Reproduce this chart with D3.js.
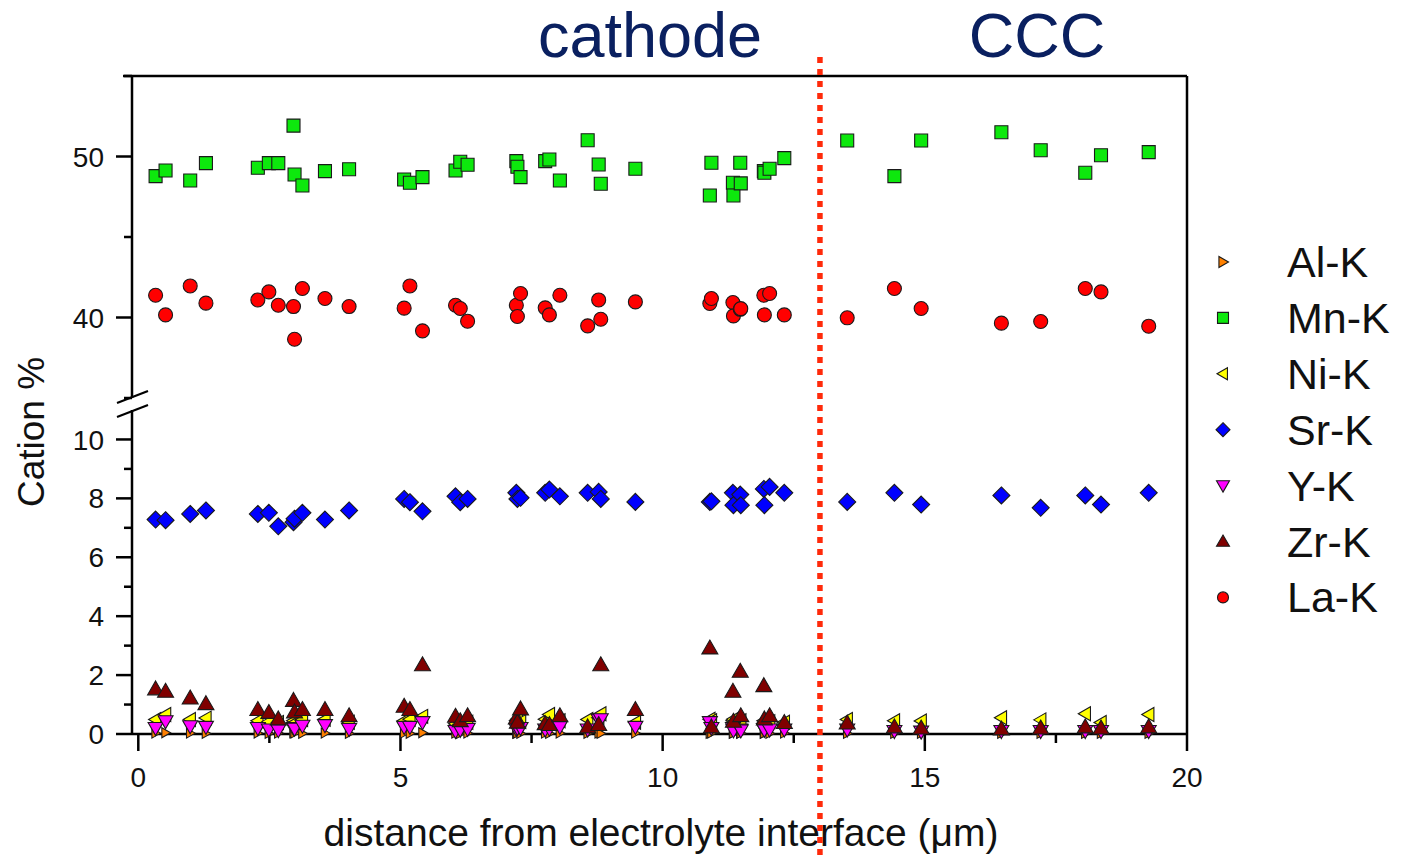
<!DOCTYPE html>
<html>
<head>
<meta charset="utf-8">
<script src="https://cdn.jsdelivr.net/npm/d3@7"></script>
<style>
  html, body { margin: 0; padding: 0; background: #fff; }
  svg { display: block; font-family: "Liberation Sans", Arial, sans-serif; }
</style>
</head>
<body>
<svg id="chart" width="1401" height="856"></svg>
<script>
// Measurement positions (distance from electrolyte interface, µm)
const positions = [
  0.33, 0.52, 0.99, 1.29, 2.28, 2.49, 2.67, 2.96, 2.98, 3.13,
  3.56, 4.02, 5.07, 5.18, 5.42, 6.05, 6.14, 6.28, 7.21, 7.23,
  7.29, 7.76, 7.84, 8.04, 8.57, 8.78, 8.82, 9.48, 10.90, 10.93,
  11.34, 11.35, 11.48, 11.49, 11.93, 11.94, 12.04, 12.32,
  13.52, 14.42, 14.93, 16.46, 17.21, 18.06, 18.36, 19.27
];

// Cation fractions (%) per element, one value per position
const alK = [
  0.03, 0.04, 0.03, 0.02, 0.03, 0.02, 0.03, 0.04, 0.03, 0.02,
  0.03, 0.02, 0.03, 0.02, 0.04, 0.03, 0.02, 0.03, 0.02, 0.03,
  0.02, 0.03, 0.02, 0.03, 0.02, 0.03, 0.02, 0.03, 0.02, 0.03,
  0.02, 0.03, 0.02, 0.03, 0.02, 0.03, 0.02, 0.03,
  0.02, 0.02, 0.02, 0.02, 0.02, 0.02, 0.02, 0.02
];
const mnK = [
  48.78, 49.13, 48.51, 49.59, 49.30, 49.59, 49.59, 51.92, 48.88, 48.20,
  49.09, 49.21, 48.57, 48.37, 48.72, 49.13, 49.67, 49.49, 49.71, 49.36,
  48.72, 49.71, 49.81, 48.51, 51.01, 49.50, 48.31, 49.24, 47.58, 49.61,
  48.37, 47.58, 49.61, 48.33, 49.09, 48.99, 49.24, 49.90,
  50.99, 48.78, 50.99, 51.51, 50.39, 48.99, 50.08, 50.27
];
const niK = [
  0.49, 0.66, 0.49, 0.54, 0.45, 0.42, 0.39, 0.45, 0.38, 0.49,
  0.50, 0.40, 0.45, 0.50, 0.60, 0.35, 0.40, 0.40, 0.45, 0.50,
  0.42, 0.50, 0.66, 0.45, 0.49, 0.55, 0.69, 0.40, 0.50, 0.45,
  0.45, 0.50, 0.40, 0.45, 0.45, 0.40, 0.42, 0.40,
  0.49, 0.45, 0.44, 0.55, 0.48, 0.69, 0.39, 0.66
];
const srK = [
  7.28, 7.26, 7.47, 7.59, 7.47, 7.51, 7.05, 7.19, 7.31, 7.51,
  7.28, 7.59, 7.98, 7.87, 7.56, 8.07, 7.87, 7.98, 8.19, 7.98,
  8.02, 8.19, 8.30, 8.07, 8.19, 8.22, 7.98, 7.88, 7.88, 7.90,
  8.19, 7.77, 8.13, 7.77, 8.32, 7.77, 8.39, 8.19,
  7.88, 8.19, 7.79, 8.10, 7.68, 8.10, 7.79, 8.19
];
const yK = [
  0.20, 0.43, 0.26, 0.24, 0.20, 0.15, 0.13, 0.20, 0.18, 0.28,
  0.30, 0.17, 0.24, 0.24, 0.40, 0.10, 0.14, 0.17, 0.17, 0.20,
  0.20, 0.15, 0.18, 0.24, 0.15, 0.48, 0.50, 0.24, 0.40, 0.20,
  0.20, 0.12, 0.15, 0.12, 0.17, 0.14, 0.15, 0.15,
  0.15, 0.10, 0.08, 0.10, 0.10, 0.10, 0.10, 0.10
];
const zrK = [
  1.53, 1.45, 1.22, 1.03, 0.83, 0.73, 0.51, 1.14, 0.75, 0.83,
  0.83, 0.62, 0.94, 0.83, 2.35, 0.60, 0.45, 0.62, 0.54, 0.40,
  0.85, 0.35, 0.32, 0.62, 0.24, 0.32, 2.35, 0.83, 2.92, 0.24,
  1.45, 0.43, 2.13, 0.62, 1.64, 0.51, 0.62, 0.39,
  0.37, 0.24, 0.20, 0.17, 0.20, 0.24, 0.20, 0.24
];
const laK = [
  41.38, 40.16, 41.96, 40.89, 41.09, 41.59, 40.76, 40.68, 38.65, 41.80,
  41.18, 40.68, 40.58, 41.96, 39.17, 40.76, 40.56, 39.77, 40.76, 40.06,
  41.49, 40.60, 40.16, 41.38, 39.48, 41.09, 39.89, 40.97, 40.87, 41.18,
  40.93, 40.10, 40.51, 40.55, 41.38, 40.16, 41.49, 40.16,
  39.98, 41.80, 40.56, 39.65, 39.75, 41.80, 41.59, 39.46
];

// Axis ticks
const xMajorTicks = [0, 5, 10, 15, 20];
const xMinorTicks = [2.5, 7.5, 12.5, 17.5];
const upperMajorTicks = [40, 50];
const upperMinorTicks = [35, 45, 55];
const lowerMajorTicks = [0, 2, 4, 6, 8, 10];
const lowerMinorTicks = [1, 3, 5, 7, 9];

// Boundary between cathode and current-collector coating
const boundaryX = 13.0;

// ---- layout ----
const plotLeft = 132, plotRight = 1187, plotTop = 76, plotBottom = 734;
const upperBottom = 398, lowerTop = 410;

const x = d3.scaleLinear().domain([-0.12, 20]).range([plotLeft, plotRight]);
const yUpper = d3.scaleLinear().domain([35, 55]).range([upperBottom, plotTop]);
const yLower = d3.scaleLinear().domain([0, 11]).range([plotBottom, lowerTop]);

// Custom marker shapes; "size" is the half-width in px
const shapes = {
  square: { draw(ctx, r) { ctx.rect(-r, -r, 2 * r, 2 * r); } },
  circle: { draw(ctx, r) { ctx.moveTo(r, 0); ctx.arc(0, 0, r, 0, 2 * Math.PI); } },
  diamond: { draw(ctx, r) { ctx.moveTo(0, -r); ctx.lineTo(r, 0); ctx.lineTo(0, r); ctx.lineTo(-r, 0); ctx.closePath(); } },
  up: { draw(ctx, r) { const h = r * 0.87; ctx.moveTo(0, -h * 1.15); ctx.lineTo(r, h * 0.85); ctx.lineTo(-r, h * 0.85); ctx.closePath(); } },
  down: { draw(ctx, r) { const h = r * 0.87; ctx.moveTo(0, h * 1.15); ctx.lineTo(r, -h * 0.85); ctx.lineTo(-r, -h * 0.85); ctx.closePath(); } },
  left: { draw(ctx, r) { const h = r * 0.87; ctx.moveTo(-h * 1.15, 0); ctx.lineTo(h * 0.85, -r); ctx.lineTo(h * 0.85, r); ctx.closePath(); } },
  right: { draw(ctx, r) { const h = r * 0.87; ctx.moveTo(h * 1.15, 0); ctx.lineTo(-h * 0.85, -r); ctx.lineTo(-h * 0.85, r); ctx.closePath(); } }
};

const series = [
  { name: "Al-K", values: alK, shape: "right",   color: "#ff8000", seg: "lower", r: 5,   lr: 5.5 },
  { name: "Mn-K", values: mnK, shape: "square",  color: "#0de80d", seg: "upper", r: 6.5, lr: 5.5 },
  { name: "Ni-K", values: niK, shape: "left",    color: "#ffff00", seg: "lower", r: 7,   lr: 6 },
  { name: "Sr-K", values: srK, shape: "diamond", color: "#0000ff", seg: "lower", r: 8.5, lr: 7 },
  { name: "Y-K",  values: yK,  shape: "down",    color: "#ff00ff", seg: "lower", r: 7.5, lr: 6.5 },
  { name: "Zr-K", values: zrK, shape: "up",      color: "#800000", seg: "lower", r: 8,   lr: 6.5 },
  { name: "La-K", values: laK, shape: "circle",  color: "#ff0000", seg: "upper", r: 7,   lr: 5.5 }
];

const svg = d3.select("#chart");

// ---- frame (top and right borders) ----
svg.append("line").attr("x1", plotLeft - 9).attr("x2", plotRight).attr("y1", plotTop).attr("y2", plotTop)
  .attr("stroke", "#000").attr("stroke-width", 2.5);
svg.append("line").attr("x1", plotRight).attr("x2", plotRight).attr("y1", plotTop).attr("y2", plotBottom)
  .attr("stroke", "#000").attr("stroke-width", 2.5);

// ---- x axis ----
const xAxis = svg.append("g").attr("transform", `translate(0,${plotBottom})`);
xAxis.append("line").attr("x1", plotLeft).attr("x2", plotRight).attr("stroke", "#000").attr("stroke-width", 2.5);
xAxis.selectAll(".xmaj").data(xMajorTicks).join("line")
  .attr("x1", d => x(d)).attr("x2", d => x(d)).attr("y1", 0).attr("y2", 17)
  .attr("stroke", "#000").attr("stroke-width", 2.5);
xAxis.selectAll(".xmin").data(xMinorTicks).join("line")
  .attr("x1", d => x(d)).attr("x2", d => x(d)).attr("y1", 0).attr("y2", 9)
  .attr("stroke", "#000").attr("stroke-width", 2.5);
xAxis.selectAll("text").data(xMajorTicks).join("text")
  .attr("x", d => x(d)).attr("y", 53)
  .attr("text-anchor", "middle").attr("font-size", 28).attr("fill", "#111")
  .text(d => d);

// ---- y axis, drawn in two segments with a break ----
function ySegment(scale, majors, minors, y0, y1) {
  const g = svg.append("g");
  g.append("line").attr("x1", plotLeft).attr("x2", plotLeft).attr("y1", y0).attr("y2", y1)
    .attr("stroke", "#000").attr("stroke-width", 2.5);
  g.selectAll(".maj").data(majors).join("line")
    .attr("x1", plotLeft - 16).attr("x2", plotLeft).attr("y1", d => scale(d)).attr("y2", d => scale(d))
    .attr("stroke", "#000").attr("stroke-width", 2.5);
  g.selectAll(".min").data(minors).join("line")
    .attr("x1", plotLeft - 8).attr("x2", plotLeft).attr("y1", d => scale(d)).attr("y2", d => scale(d))
    .attr("stroke", "#000").attr("stroke-width", 2.5);
  g.selectAll("text").data(majors).join("text")
    .attr("x", plotLeft - 28).attr("y", d => scale(d)).attr("dy", "0.36em")
    .attr("text-anchor", "end").attr("font-size", 28).attr("fill", "#111")
    .text(d => d);
}
ySegment(yUpper, upperMajorTicks, upperMinorTicks, plotTop, upperBottom);
ySegment(yLower, lowerMajorTicks, lowerMinorTicks, lowerTop, plotBottom);

// break marks
[upperBottom - 1, lowerTop + 1].forEach(cy => {
  svg.append("line").attr("x1", plotLeft - 15).attr("x2", plotLeft + 16)
    .attr("y1", cy + 6).attr("y2", cy - 6)
    .attr("stroke", "#000").attr("stroke-width", 2.2);
});

// ---- axis titles ----
svg.append("text")
  .attr("transform", `translate(44,432) rotate(-90)`)
  .attr("text-anchor", "middle").attr("font-size", 37).attr("fill", "#111")
  .text("Cation %");
svg.append("text")
  .attr("x", 661).attr("y", 846)
  .attr("text-anchor", "middle").attr("font-size", 39).attr("fill", "#111")
  .text("distance from electrolyte interface (\u03bcm)");

// ---- data markers ----
series.forEach(s => {
  const yScale = s.seg === "upper" ? yUpper : yLower;
  const sym = d3.symbol().type(shapes[s.shape]).size(s.r);
  svg.append("g").selectAll("path")
    .data(s.values.map((v, i) => ({ x: positions[i], v })))
    .join("path")
    .attr("transform", d => `translate(${x(d.x)},${yScale(d.v)})`)
    .attr("d", sym)
    .attr("fill", s.color)
    .attr("stroke", "#1a1a1a").attr("stroke-width", 1.1);
});

// ---- region boundary ----
svg.append("line")
  .attr("x1", x(boundaryX)).attr("x2", x(boundaryX)).attr("y1", 57).attr("y2", 856)
  .attr("stroke", "#ff2a0a").attr("stroke-width", 5.5).attr("stroke-dasharray", "6,6");

// ---- region labels ----
svg.append("text").attr("x", 650).attr("y", 57).attr("text-anchor", "middle")
  .attr("font-size", 63).attr("fill", "#0a2060").text("cathode");
svg.append("text").attr("x", 1037).attr("y", 57).attr("text-anchor", "middle")
  .attr("font-size", 63).attr("fill", "#0a2060").text("CCC");

// ---- legend ----
const legend = svg.append("g").attr("transform", "translate(1223,262)");
series.forEach((s, i) => {
  const row = legend.append("g").attr("transform", `translate(0,${i * 55.9})`);
  row.append("path").attr("d", d3.symbol().type(shapes[s.shape]).size(s.lr)())
    .attr("fill", s.color).attr("stroke", "#1a1a1a").attr("stroke-width", 1.1);
  row.append("text").attr("x", 64).attr("y", 15)
    .attr("font-size", 43).attr("fill", "#111").text(s.name);
});
</script>
</body>
</html>
